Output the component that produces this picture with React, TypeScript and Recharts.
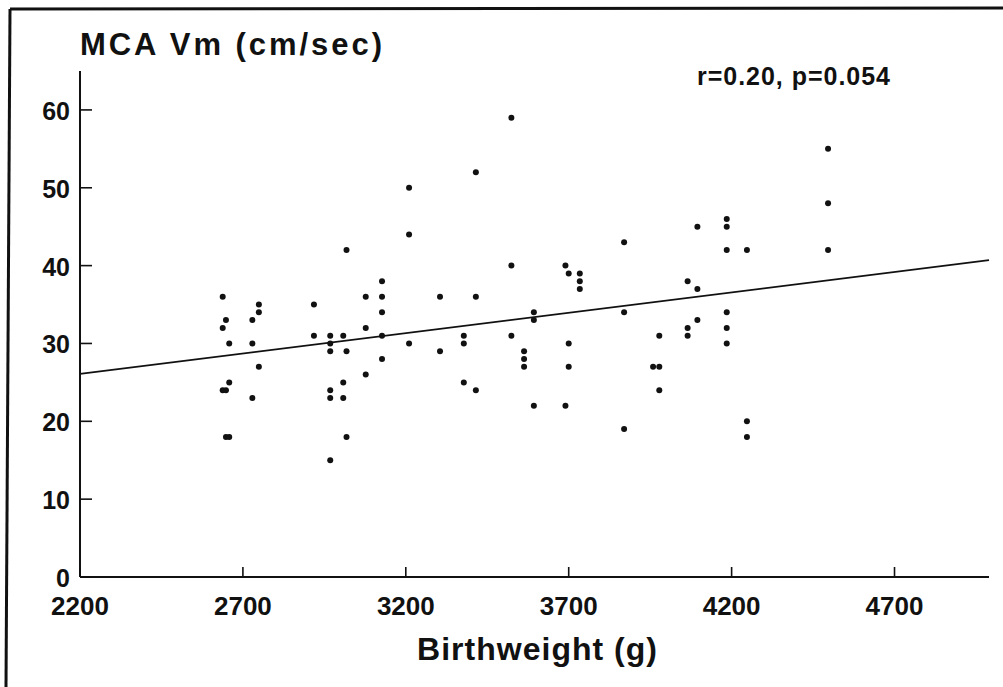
import React from 'react'
import { ScatterChart, Scatter, XAxis, YAxis, ReferenceLine } from 'recharts'

// birthweight (g) and MCA mean velocity (cm/sec)
const birthweight = [
  2638, 2638, 2638, 2648, 2648, 2648, 2658, 2658, 2658,
  2729, 2729, 2729, 2749, 2749, 2749, 2918, 2918,
  2968, 2968, 2968, 2968, 2968, 2968, 3008, 3008, 3008,
  3018, 3018, 3018, 3077, 3077, 3077, 3127, 3127, 3127, 3127, 3127,
  3210, 3210, 3210, 3305, 3305, 3378, 3378, 3378, 3415, 3415, 3415,
  3524, 3524, 3524, 3563, 3563, 3563, 3593, 3593, 3593, 3690, 3690,
  3700, 3700, 3700, 3734, 3734, 3734, 3870, 3870, 3870, 3959,
  3978, 3978, 3978, 4065, 4065, 4065, 4095, 4095, 4095,
  4185, 4185, 4185, 4185, 4185, 4185, 4247, 4247, 4247, 4496, 4496, 4496,
]
const mcaVm = [
  36, 32, 24, 33, 24, 18, 30, 25, 18,
  33, 30, 23, 35, 34, 27, 35, 31,
  31, 30, 29, 24, 23, 15, 31, 25, 23,
  42, 29, 18, 36, 32, 26, 38, 36, 34, 31, 28,
  50, 44, 30, 36, 29, 31, 30, 25, 52, 36, 24,
  59, 40, 31, 29, 28, 27, 34, 33, 22, 40, 22,
  39, 30, 27, 39, 38, 37, 43, 34, 19, 27,
  31, 27, 24, 38, 32, 31, 45, 37, 33,
  46, 45, 42, 34, 32, 30, 42, 20, 18, 55, 48, 42,
]

const xTicks = [2200, 2700, 3200, 3700, 4200, 4700]
const yTicks = [0, 10, 20, 30, 40, 50, 60]

// fitted regression line end points
const fitX = [2200, 4990]
const fitY = [26.1, 40.7]

const points = birthweight.map((w, i) => ({ x: w, y: mcaVm[i] }))
const ink = '#111'
const font = '"Liberation Sans", Arial, sans-serif'

function XTick(props: any) {
  const { x, y, payload } = props
  return (
    <g>
      <line x1={x} x2={x} y1={y} y2={y - 10} stroke={ink} strokeWidth={1.6} />
      <text x={x} y={y + 38} textAnchor="middle" fontSize={26} fontWeight="bold" fontFamily={font} fill={ink}>
        {payload.value}
      </text>
    </g>
  )
}

function YTick(props: any) {
  const { x, y, payload } = props
  return (
    <g>
      <line x1={x} x2={x + 12} y1={y} y2={y} stroke={ink} strokeWidth={1.6} />
      <text x={x - 10} y={y + 10} textAnchor="end" fontSize={25} fontWeight="bold" fontFamily={font} fill={ink}>
        {payload.value}
      </text>
    </g>
  )
}

function DotShape(props: any) {
  const { cx, cy } = props
  return <circle cx={cx} cy={cy} r={3} fill={ink} />
}

export default function App() {
  return (
    <div style={{ position: 'absolute', left: 0, top: 0, width: 1003, height: 687, background: '#fff' }}>
      <ScatterChart width={1003} height={687} margin={{ top: 71, right: 14, bottom: 80, left: 20 }}>
        <XAxis
          type="number"
          dataKey="x"
          domain={[2200, 4990]}
          ticks={xTicks}
          tick={XTick}
          tickSize={0}
          tickMargin={0}
          tickLine={false}
          axisLine={{ stroke: ink, strokeWidth: 2 }}
          height={30}
          allowDataOverflow
        />
        <YAxis
          type="number"
          dataKey="y"
          domain={[0, 65]}
          ticks={yTicks}
          tick={YTick}
          tickSize={0}
          tickMargin={0}
          tickLine={false}
          axisLine={{ stroke: ink, strokeWidth: 2 }}
          width={60}
          allowDataOverflow
        />
        <ReferenceLine
          segment={[
            { x: fitX[0], y: fitY[0] },
            { x: fitX[1], y: fitY[1] },
          ]}
          stroke={ink}
          strokeWidth={1.8}
        />
        <Scatter data={points} shape={DotShape} isAnimationActive={false} />
      </ScatterChart>

      {/* frame and titles, as in the scanned figure */}
      <svg width={1003} height={687} style={{ position: 'absolute', left: 0, top: 0, pointerEvents: 'none' }}>
        <line x1={10} y1={9} x2={1003} y2={8} stroke={ink} strokeWidth={3} />
        <line x1={10} y1={9} x2={6} y2={687} stroke={ink} strokeWidth={3} />
        <text x={80} y={55} fontSize={31} fontWeight="bold" fontFamily={font} fill={ink} textLength={302} lengthAdjust="spacing">
          MCA Vm (cm/sec)
        </text>
        <text x={697} y={85} fontSize={25} fontWeight="bold" fontFamily={font} fill={ink} textLength={193} lengthAdjust="spacing">
          r=0.20, p=0.054
        </text>
        <text x={417} y={660} fontSize={32} fontWeight="bold" fontFamily={font} fill={ink} textLength={240} lengthAdjust="spacing">
          Birthweight (g)
        </text>
      </svg>
    </div>
  )
}
